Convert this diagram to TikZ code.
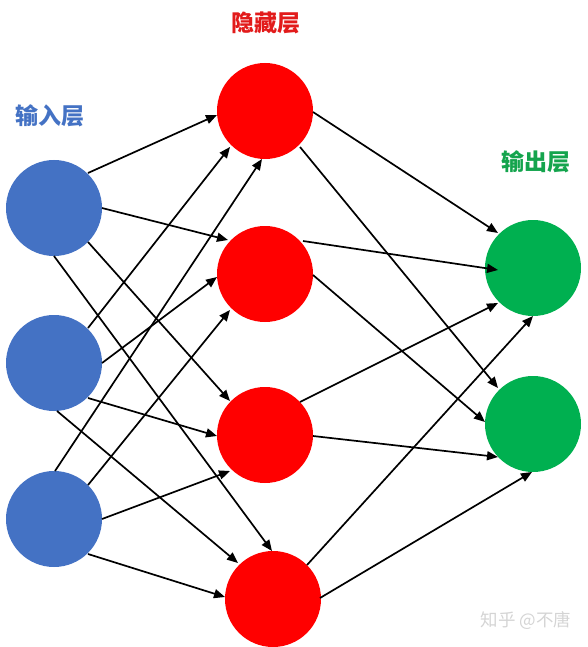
\documentclass[tikz,border=0pt]{standalone}
\usepackage{fontspec}
\newfontfamily\cjk{Noto Sans CJK SC}
\usetikzlibrary{arrows.meta}
\definecolor{inblue}{HTML}{4472C4}
\definecolor{hidred}{HTML}{FF0000}
\definecolor{hidtxt}{HTML}{E21B1B}
\definecolor{outgreen}{HTML}{00B050}
\definecolor{outtxt}{HTML}{14A44D}
\tikzset{
  neuron/.style={circle, minimum size=96pt, inner sep=0pt, outer sep=0pt},
  inneuron/.style={neuron, fill=inblue},
  hidneuron/.style={neuron, fill=hidred},
  outneuron/.style={neuron, fill=outgreen},
  conn/.style={line width=1.7pt, -{Triangle[length=11pt,width=9pt]}},
  layerlabel/.style={font=\cjk\bfseries\fontsize{23}{26}\selectfont, inner sep=0pt},
  wmark/.style={font=\cjk\fontsize{17.5}{20}\selectfont, text=black!17, inner sep=0pt}
}
\newcommand{\off}[3]{([shift={(#2,#3)}]#1.center)}
\begin{document}
\begin{tikzpicture}[x=1pt,y=-1pt]
\useasboundingbox (0,0) rectangle (587,647);
% nodes
\node[inneuron] (i1) at (54,208) {};
\node[inneuron] (i2) at (54,363) {};
\node[inneuron] (i3) at (54,519) {};
\node[hidneuron] (h1) at (265,111) {};
\node[hidneuron] (h2) at (265,274) {};
\node[hidneuron] (h3) at (265,435) {};
\node[hidneuron] (h4) at (273,599) {};
\node[outneuron] (o1) at (533,268) {};
\node[outneuron] (o2) at (533,424) {};
% labels
\node[layerlabel, text=inblue] (lin) at (50,116) {输入层};
\node[layerlabel, text=hidtxt] (lhid) at (266,23) {隐藏层};
\node[layerlabel, text=outtxt] (lout) at (536,162) {输出层};
\node[wmark] (wm) at (526,621) {知乎 @不唐};
% input -> hidden
\draw[conn] \off{i1}{34}{-35} -- \off{h1}{-48}{4};
\draw[conn] \off{i1}{48}{0} -- \off{h2}{-37}{-34};
\draw[conn] \off{i1}{34}{34} -- \off{h3}{-35}{-34};
\draw[conn] \off{i1}{0}{48} -- \off{h4}{-1}{-48};
\draw[conn] \off{i2}{34}{-35} -- \off{h1}{-35}{36};
\draw[conn] \off{i2}{48}{0} -- \off{h2}{-48}{3};
\draw[conn] \off{i2}{34}{35} -- \off{h3}{-48}{1};
\draw[conn] \off{i2}{3}{48} -- \off{h4}{-35}{-36};
\draw[conn] \off{i3}{1}{-48} -- \off{h1}{-3}{48};
\draw[conn] \off{i3}{34}{-34} -- \off{h2}{-35}{36};
\draw[conn] \off{i3}{48}{0} -- \off{h3}{-35}{36};
\draw[conn] \off{i3}{34}{35} -- \off{h4}{-48}{-2};
% hidden -> output
\draw[conn] \off{h1}{48}{1} -- \off{o1}{-35}{-35};
\draw[conn] \off{h1}{35}{36} -- \off{o2}{-35}{-36};
\draw[conn] \off{h2}{38}{-33} -- \off{o1}{-35}{2};
\draw[conn] \off{h2}{48}{1} -- \off{o2}{-48}{-2};
\draw[conn] \off{h3}{35}{-33} -- \off{o1}{-35}{35};
\draw[conn] \off{h3}{48}{1} -- \off{o2}{-35}{33};
\draw[conn] \off{h4}{34}{-34} -- \off{o1}{0}{48};
\draw[conn] \off{h4}{47}{-1} -- \off{o2}{-1}{48};
\end{tikzpicture}
\end{document}
